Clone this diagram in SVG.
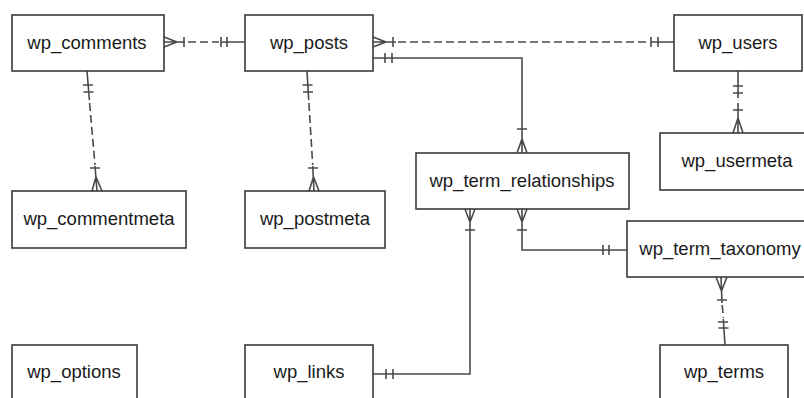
<svg xmlns="http://www.w3.org/2000/svg" width="804" height="398" viewBox="0 0 804 398">
<style>
.box{fill:#fff;stroke:#3a3a3a;stroke-width:1.6}
.lbl{font-family:"Liberation Sans",Arial,Helvetica,sans-serif;font-size:18.5px;fill:#1a1a1a;text-anchor:middle}
.c{fill:none;stroke:#4a4a4a;stroke-width:1.6}
.d{fill:none;stroke:#4a4a4a;stroke-width:1.6;stroke-dasharray:8 4}
</style>
<rect width="804" height="398" fill="#fff"/>
<g id="connectors">
<!-- wp_comments - wp_posts -->
<path class="c" d="M164,37 L177,42 M164,47 L177,42 M164,42 H185 M184,37 V47"/>
<path class="d" d="M188,42 H219"/>
<path class="c" d="M221,37 V47 M227,37 V47 M221,42 H245"/>
<!-- wp_posts - wp_users -->
<path class="c" d="M373,37 L386,42 M373,47 L386,42 M373,42 H396 M393,37 V47"/>
<path class="d" d="M398,42 H649"/>
<path class="c" d="M651,37 V47 M658,37 V47 M651,42 H674"/>
<!-- wp_posts - wp_term_relationships -->
<path class="c" d="M373,58 H522 V153 M385,53 V63 M392,53 V63 M517,129 H527 M517,153 L522,139 L527,153"/>
<!-- wp_comments - wp_commentmeta -->
<path class="c" d="M87,71 L89.4,100 M83,85 L93,85 M83.5,92 L93.5,92"/>
<path class="d" d="M89.6,103 L95,165"/>
<path class="c" d="M95,166 L97,191 M90,168 L100,168 M92,191 L96,177 L102,191"/>
<!-- wp_posts - wp_postmeta -->
<path class="c" d="M307,71 L308.7,100 M302.5,85 L312.5,85 M303,92 L313,92"/>
<path class="d" d="M308.9,103 L312.7,165"/>
<path class="c" d="M312.7,166 L314,191 M308,168 L318,168 M309,191 L313.5,177 L319,191"/>
<!-- wp_users - wp_usermeta -->
<path class="c" d="M738,71 V98 M733,86 H743 M733,93 H743 M738,103 V133 M733,110 H743 M733,133 L738,118 L743,133"/>
<!-- wp_term_relationships - wp_term_taxonomy -->
<path class="c" d="M522,209 V250 H627 M517,209 L522,222 L527,209 M517,230 H527 M603,245 V255 M609,245 V255"/>
<!-- wp_term_relationships - wp_links -->
<path class="c" d="M470,209 V374 H373 M465,209 L470,222 L475,209 M465,230 H475 M386,369 V379 M393,369 V379"/>
<!-- wp_term_taxonomy - wp_terms -->
<path class="c" d="M721,277 L722,303 M716,277 L721.5,291 L727,277 M717,300 H727"/>
<path class="d" d="M722.2,305 L723.3,318"/>
<path class="c" d="M723.3,319 L725,345 M718,322 H728 M718.5,328 H728.5"/>
</g>
<g id="wp_comments"><rect class="box" x="12" y="15" width="152" height="56"/><text class="lbl" x="87" y="49">wp_comments</text></g>
<g id="wp_posts"><rect class="box" x="245" y="15" width="128" height="56"/><text class="lbl" x="309" y="49">wp_posts</text></g>
<g id="wp_users"><rect class="box" x="674" y="15" width="128" height="56"/><text class="lbl" x="738" y="49">wp_users</text></g>
<g id="wp_commentmeta"><rect class="box" x="12" y="191" width="174" height="57"/><text class="lbl" x="99" y="225">wp_commentmeta</text></g>
<g id="wp_postmeta"><rect class="box" x="245" y="191" width="140" height="57"/><text class="lbl" x="315" y="225">wp_postmeta</text></g>
<g id="wp_term_relationships"><rect class="box" x="416" y="153" width="213" height="56"/><text class="lbl" x="522" y="187">wp_term_relationships</text></g>
<g id="wp_usermeta"><rect class="box" x="660" y="133" width="154" height="57"/><text class="lbl" x="737" y="167">wp_usermeta</text></g>
<g id="wp_term_taxonomy"><rect class="box" x="627" y="221" width="186" height="56"/><text class="lbl" x="720" y="255">wp_term_taxonomy</text></g>
<g id="wp_options"><rect class="box" x="12" y="345" width="125" height="56"/><text class="lbl" x="74" y="378">wp_options</text></g>
<g id="wp_links"><rect class="box" x="245" y="345" width="128" height="56"/><text class="lbl" x="309" y="378">wp_links</text></g>
<g id="wp_terms"><rect class="box" x="660" y="345" width="128" height="56"/><text class="lbl" x="724" y="378">wp_terms</text></g>
</svg>
